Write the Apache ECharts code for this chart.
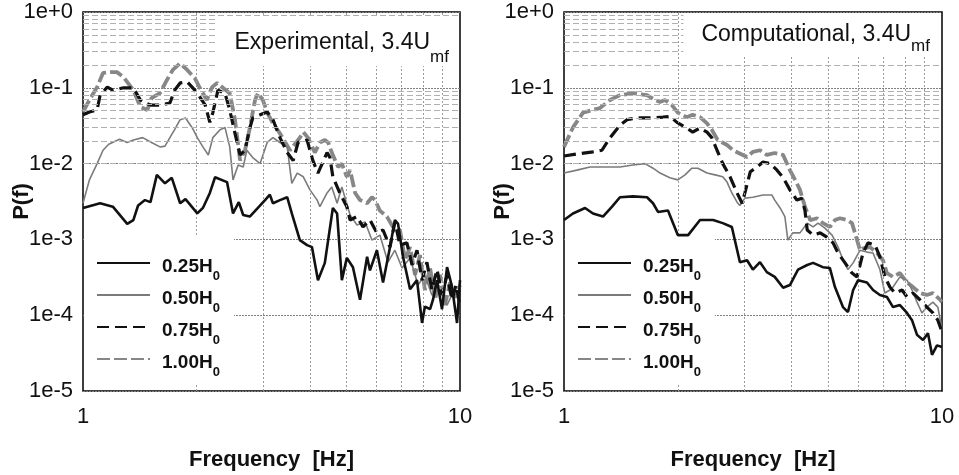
<!DOCTYPE html>
<html>
<head>
<meta charset="utf-8">
<title>P(f) spectra</title>
<script src="https://cdn.jsdelivr.net/npm/echarts@6.0.0/dist/echarts.min.js"></script>
<style>
  html, body { margin: 0; padding: 0; background: #fff; }
  #wrap { position: relative; width: 959px; height: 475px; }
  #exp  { position: absolute; left: 0; top: 0; width: 480px; height: 475px; }
  #comp { position: absolute; left: 480px; top: 0; width: 479px; height: 475px; }
</style>
</head>
<body>
<div id="wrap"><div id="exp"></div><div id="comp"></div></div>
<script>
// ---- labels and ticks ----
const seriesNames = ['0.25H0', '0.50H0', '0.75H0', '1.00H0'];
const xTickLabels = ['1', '10'];                                   // by decade: 10^0, 10^1
const yTickLabels = ['1e+0', '1e-1', '1e-2', '1e-3', '1e-4', '1e-5']; // by -exponent
const xMinorTicks = [2, 3, 4, 5, 6, 7, 8, 9];
const yMinorMantissas = [2, 3, 4, 5, 6, 7, 8, 9];
const yDecades = [-5, -4, -3, -2, -1];

// ---- experimental spectra, [frequency (Hz), P(f)] ----
const exp025 = [[1.00,2.6e-3],[1.11,3.0e-3],[1.20,2.7e-3],[1.31,1.6e-3],[1.36,1.8e-3],[1.40,2.8e-3],[1.46,3.3e-3],[1.51,3.1e-3],[1.57,7.1e-3],[1.65,5.5e-3],[1.72,6.5e-3],[1.81,3.0e-3],[1.87,3.4e-3],[2.01,2.2e-3],[2.08,2.6e-3],[2.17,4.1e-3],[2.24,6.6e-3],[2.41,5.7e-3],[2.50,2.2e-3],[2.59,3.1e-3],[2.66,2.1e-3],[2.77,2.0e-3],[3.04,3.3e-3],[3.13,3.9e-3],[3.19,3.0e-3],[3.33,3.3e-3],[3.48,3.6e-3],[3.58,2.2e-3],[3.76,9.8e-4],[3.93,8.4e-4],[4.05,7.9e-4],[4.20,2.9e-4],[4.38,4.9e-4],[4.60,2.6e-3],[4.72,2.2e-3],[4.86,2.9e-4],[5.01,5.7e-4],[5.20,4.3e-4],[5.43,1.6e-4],[5.67,5.9e-4],[5.77,3.9e-4],[6.02,7.2e-4],[6.25,2.7e-4],[6.52,7.9e-4],[6.72,1.8e-3],[6.85,1.6e-3],[7.06,5.9e-4],[7.37,2.2e-4],[7.69,2.9e-4],[7.93,7.9e-5],[8.07,1.3e-4],[8.33,1.2e-4],[8.48,1.6e-4],[8.69,2.9e-4],[8.96,1.2e-4],[9.24,4.3e-4],[9.52,2.4e-4],[9.82,7.9e-5],[10.0,2.9e-4]];
const exp050 = [[1.00,3.0e-3],[1.04,6.1e-3],[1.09,1.0e-2],[1.13,1.5e-2],[1.17,1.8e-2],[1.25,2.1e-2],[1.31,1.9e-2],[1.36,2.05e-2],[1.44,2.2e-2],[1.52,1.9e-2],[1.60,1.66e-2],[1.65,1.7e-2],[1.70,2.2e-2],[1.75,2.8e-2],[1.81,3.8e-2],[1.87,4.0e-2],[1.95,2.95e-2],[2.01,2.2e-2],[2.08,1.66e-2],[2.15,1.3e-2],[2.21,2.2e-2],[2.31,2.8e-2],[2.38,3.0e-2],[2.45,1.66e-2],[2.50,6.1e-3],[2.58,9.6e-3],[2.66,9.0e-3],[2.72,1.5e-2],[2.82,1.2e-2],[2.95,1.0e-2],[3.08,1.9e-2],[3.19,2.2e-2],[3.33,1.9e-2],[3.48,1.66e-2],[3.58,5.5e-3],[3.70,7.5e-3],[3.84,6.7e-3],[4.00,4.5e-3],[4.18,3.3e-3],[4.25,2.7e-3],[4.44,4.1e-3],[4.57,4.9e-3],[4.72,3.0e-3],[4.86,4.9e-3],[5.11,2.1e-3],[5.33,1.55e-3],[5.60,1.7e-3],[5.84,9.8e-4],[6.13,1.14e-3],[6.44,5.0e-4],[6.72,7.2e-4],[7.02,4.2e-4],[7.37,5.7e-4],[7.74,2.5e-4],[8.07,3.4e-4],[8.42,1.85e-4],[8.85,2.15e-4],[9.24,1.36e-4],[9.58,2.0e-4],[10.0,1.6e-4]];
const exp075 = [[1.00,4.4e-2],[1.04,4.8e-2],[1.09,5.1e-2],[1.11,8.0e-2],[1.16,0.102],[1.20,9.3e-2],[1.28,0.1],[1.36,0.1],[1.42,6.9e-2],[1.46,6.3e-2],[1.52,5.9e-2],[1.60,5.9e-2],[1.70,6.3e-2],[1.75,9.3e-2],[1.81,0.116],[1.89,0.12],[1.98,9.3e-2],[2.04,7.6e-2],[2.11,5.9e-2],[2.17,3.5e-2],[2.21,4.7e-2],[2.28,9.3e-2],[2.38,8.5e-2],[2.45,5.1e-2],[2.53,2.5e-2],[2.61,1.3e-2],[2.69,1.5e-2],[2.77,2.95e-2],[2.82,4.0e-2],[2.95,4.4e-2],[3.08,4.8e-2],[3.19,3.8e-2],[3.33,2.2e-2],[3.48,1.4e-2],[3.61,1.1e-2],[3.72,1.9e-2],[3.93,2.05e-2],[4.07,1.1e-2],[4.20,7.5e-3],[4.44,1.4e-2],[4.52,1.2e-2],[4.60,6.7e-3],[4.80,4.1e-3],[5.01,2.7e-3],[5.11,1.8e-3],[5.33,2.0e-3],[5.53,1.46e-3],[5.77,1.8e-3],[6.02,1.22e-3],[6.25,1.33e-3],[6.52,7.9e-4],[6.72,1.7e-3],[6.93,8.4e-4],[7.23,9.0e-4],[7.46,4.6e-4],[7.69,7.2e-4],[7.93,2.9e-4],[8.17,5.0e-4],[8.42,2.15e-4],[8.69,4.0e-4],[8.96,1.85e-4],[9.24,3.4e-4],[9.52,1.6e-4],[9.76,2.5e-4],[10.0,1.36e-4]];
const exp100 = [[1.00,4.8e-2],[1.04,6.9e-2],[1.09,0.102],[1.13,0.157],[1.18,0.161],[1.23,0.161],[1.28,0.139],[1.36,9.3e-2],[1.42,5.6e-2],[1.48,5.1e-2],[1.52,7.3e-2],[1.60,8.5e-2],[1.67,0.127],[1.73,0.172],[1.81,0.21],[1.89,0.172],[1.98,0.134],[2.04,0.1],[2.13,6.9e-2],[2.20,0.102],[2.27,0.116],[2.35,0.1],[2.45,8.5e-2],[2.53,3.8e-2],[2.61,1.1e-2],[2.69,1.5e-2],[2.77,2.95e-2],[2.86,6.9e-2],[2.91,8.5e-2],[3.00,6.9e-2],[3.08,4.7e-2],[3.19,3.4e-2],[3.33,2.5e-2],[3.54,1.5e-2],[3.76,2.2e-2],[3.84,2.6e-2],[3.95,2.2e-2],[4.12,1.4e-2],[4.25,1.9e-2],[4.38,2.05e-2],[4.47,1.9e-2],[4.57,1.4e-2],[4.75,9.0e-3],[4.86,1.0e-2],[5.01,6.7e-3],[5.11,8.2e-3],[5.27,4.1e-3],[5.43,3.3e-3],[5.67,3.0e-3],[5.84,3.6e-3],[5.95,3.3e-3],[6.13,2.4e-3],[6.40,2.0e-3],[6.64,1.46e-3],[6.93,1.33e-3],[7.15,5.4e-4],[7.37,7.9e-4],[7.60,3.4e-4],[7.83,6.2e-4],[8.07,2.15e-4],[8.33,4.2e-4],[8.59,1.6e-4],[8.85,3.4e-4],[9.12,1.36e-4],[9.41,2.7e-4],[9.70,1.7e-4],[10.0,2.5e-4]];

// ---- computational spectra, [frequency (Hz), P(f)] ----
const comp025 = [[1.00,1.8e-3],[1.056,2.2e-3],[1.137,2.6e-3],[1.193,2.2e-3],[1.268,2.0e-3],[1.34,2.7e-3],[1.406,3.6e-3],[1.522,3.7e-3],[1.658,3.6e-3],[1.72,3.0e-3],[1.773,2.3e-3],[1.884,2.4e-3],[2.0,1.14e-3],[2.13,1.14e-3],[2.29,1.8e-3],[2.48,1.8e-3],[2.63,1.64e-3],[2.78,1.46e-3],[2.92,5.0e-4],[3.05,5.3e-4],[3.16,4.0e-4],[3.30,5.0e-4],[3.44,3.7e-4],[3.61,3.2e-4],[3.80,2.3e-4],[3.96,2.5e-4],[4.16,4.0e-4],[4.40,4.6e-4],[4.56,4.9e-4],[4.84,4.3e-4],[5.05,4.2e-4],[5.21,2.35e-4],[5.47,1.28e-4],[5.64,1.1e-4],[5.82,2.15e-4],[6.0,2.9e-4],[6.33,2.7e-4],[6.57,2.15e-4],[6.85,1.85e-4],[7.15,1.74e-4],[7.42,1.28e-4],[7.74,1.36e-4],[8.08,1.07e-4],[8.33,8.6e-5],[8.59,5.5e-5],[8.91,4.7e-5],[9.18,5.8e-5],[9.41,3.0e-5],[9.70,4.0e-5],[10.0,3.8e-5]];
const comp050 = [[1.00,7.5e-3],[1.082,8.2e-3],[1.172,9.0e-3],[1.268,9.0e-3],[1.406,9.0e-3],[1.522,9.6e-3],[1.638,1.0e-2],[1.72,8.7e-3],[1.795,7.5e-3],[1.906,6.5e-3],[2.0,6.1e-3],[2.09,7.1e-3],[2.18,8.7e-3],[2.26,8.7e-3],[2.39,7.5e-3],[2.51,7.1e-3],[2.63,6.7e-3],[2.70,5.7e-3],[2.78,4.1e-3],[2.87,3.1e-3],[2.92,2.8e-3],[3.01,3.5e-3],[3.16,3.6e-3],[3.36,3.85e-3],[3.55,3.85e-3],[3.61,3.3e-3],[3.73,2.6e-3],[3.84,2.0e-3],[3.91,9.8e-4],[4.03,1.22e-3],[4.21,1.22e-3],[4.40,1.64e-3],[4.56,1.46e-3],[4.70,1.64e-3],[4.90,1.41e-3],[5.12,1.14e-3],[5.31,7.9e-4],[5.47,5.4e-4],[5.64,4.0e-4],[5.82,4.9e-4],[6.07,7.2e-4],[6.33,6.8e-4],[6.57,6.6e-4],[6.85,4.0e-4],[7.06,1.96e-4],[7.28,2.15e-4],[7.42,2.35e-4],[7.74,3.2e-4],[8.08,2.9e-4],[8.33,2.15e-4],[8.59,1.49e-4],[8.85,1.07e-4],[9.12,1.28e-4],[9.46,1.49e-4],[9.75,1.28e-4],[10.0,6.5e-5]];
const comp075 = [[1.00,1.26e-2],[1.082,1.34e-2],[1.193,1.43e-2],[1.26,1.5e-2],[1.324,2.2e-2],[1.406,3.2e-2],[1.468,3.8e-2],[1.56,4.0e-2],[1.689,4.0e-2],[1.827,4.1e-2],[1.906,4.2e-2],[1.99,3.5e-2],[2.11,2.95e-2],[2.19,2.6e-2],[2.29,2.95e-2],[2.39,2.6e-2],[2.46,2.2e-2],[2.54,1.5e-2],[2.63,1.0e-2],[2.75,6.7e-3],[2.87,4.1e-3],[2.96,3.0e-3],[3.01,4.1e-3],[3.11,7.8e-3],[3.24,9.0e-3],[3.36,1.05e-2],[3.51,1.0e-2],[3.66,8.2e-3],[3.80,6.5e-3],[3.96,4.5e-3],[4.13,3.3e-3],[4.26,3.5e-3],[4.34,2.4e-3],[4.40,1.33e-3],[4.56,1.14e-3],[4.76,1.22e-3],[4.96,1.07e-3],[5.15,9.0e-4],[5.31,6.6e-4],[5.54,4.9e-4],[5.78,3.6e-4],[5.96,3.2e-4],[6.18,6.6e-4],[6.37,9.0e-4],[6.65,8.4e-4],[6.85,5.9e-4],[7.06,3.2e-4],[7.28,2.35e-4],[7.51,1.96e-4],[7.84,2.15e-4],[8.08,1.74e-4],[8.38,1.96e-4],[8.74,1.6e-4],[9.12,1.28e-4],[9.46,1.07e-4],[9.75,8.6e-5],[10.0,6.0e-5]];
const comp100 = [[1.00,1.66e-2],[1.056,3.0e-2],[1.123,4.7e-2],[1.245,5.4e-2],[1.324,6.9e-2],[1.406,8.0e-2],[1.522,8.5e-2],[1.658,8.0e-2],[1.741,6.9e-2],[1.795,6.5e-2],[1.85,6.9e-2],[1.93,5.9e-2],[2.0,4.7e-2],[2.11,4.1e-2],[2.19,4.4e-2],[2.29,4.1e-2],[2.39,3.4e-2],[2.46,2.8e-2],[2.55,2.05e-2],[2.70,1.76e-2],[2.80,1.5e-2],[3.05,1.22e-2],[3.16,1.43e-2],[3.30,1.5e-2],[3.44,1.3e-2],[3.61,1.38e-2],[3.80,1.3e-2],[3.96,8.2e-3],[4.13,5.5e-3],[4.21,4.5e-3],[4.34,2.7e-3],[4.48,1.8e-3],[4.67,1.9e-3],[4.84,1.64e-3],[5.05,1.46e-3],[5.21,1.8e-3],[5.37,1.9e-3],[5.61,1.8e-3],[5.78,1.64e-3],[5.96,9.8e-4],[6.07,7.2e-4],[6.18,7.6e-4],[6.45,7.9e-4],[6.73,6.6e-4],[6.98,5.3e-4],[7.15,3.6e-4],[7.42,3.2e-4],[7.74,3.6e-4],[8.08,2.7e-4],[8.38,2.35e-4],[8.74,1.96e-4],[9.12,1.85e-4],[9.46,1.96e-4],[9.88,1.6e-4],[10.0,1.5e-4]];

const FONT = "'Liberation Sans', Arial, Helvetica, sans-serif";

// line styles per height
const styles = {
  '0.25H0': { color: '#111111', width: 2.6, type: 'solid', z: 5 },
  '0.50H0': { color: '#7b7b7b', width: 1.6, type: 'solid', z: 3 },
  '0.75H0': { color: '#111111', width: 3.2, type: [12, 6], z: 4 },
  '1.00H0': { color: '#878787', width: 3.8, type: [13, 4], z: 2 }
};

function minorGridLines() {
  const lines = [];
  xMinorTicks.forEach(v => lines.push({
    xAxis: v, lineStyle: { type: [2, 2], color: '#9c9c9c', width: 1 }
  }));
  yDecades.forEach(d => yMinorMantissas.forEach(m => lines.push({
    yAxis: m * Math.pow(10, d), lineStyle: { type: [6, 3], color: '#b0b0b0', width: 1 }
  })));
  return lines;
}

function buildOption(cfg) {
  const lineSeries = ['1.00H0', '0.50H0', '0.75H0', '0.25H0'].map(name => {
    const s = styles[name];
    return {
      name, type: 'line', data: cfg.data[name], symbol: 'none', z: s.z,
      lineStyle: { color: s.color, width: s.width, type: s.type },
      itemStyle: { color: s.color },
      emphasis: { disabled: true }, silent: true
    };
  });
  return {
    animation: false,
    grid: {
      left: cfg.left, right: cfg.right, top: 12, bottom: 84,
      show: true, borderColor: '#000', borderWidth: 1.5,
      outerBoundsMode: 'none'
    },
    title: {
      text: '{a|' + cfg.title + '}{s|mf}',
      right: cfg.titleRight, top: cfg.titleTop,
      padding: [cfg.titlePadTop, 10, 0, 18],
      backgroundColor: '#ffffff', z: 8,
      textStyle: {
        fontWeight: 'normal',
        rich: {
          a: { fontFamily: FONT, fontSize: 23, fontWeight: 'normal', lineHeight: 26, color: '#111',
               verticalAlign: 'top' },
          s: { fontFamily: FONT, fontSize: 17, fontWeight: 'normal', lineHeight: 10, color: '#111',
               verticalAlign: 'top', padding: [cfg.subPad, 0, 0, 0] }
        }
      }
    },
    legend: {
      data: seriesNames, orient: 'vertical', selectedMode: false,
      left: cfg.left + 1, top: 237,
      itemWidth: 53, itemHeight: 12, itemGap: 1,
      padding: [15, 14, 6, 12], backgroundColor: '#ffffff', z: 8,
      itemStyle: { color: 'rgba(0,0,0,0)', borderColor: 'rgba(0,0,0,0)', borderWidth: 0, opacity: 0 },
      formatter: n => '{m|' + n.slice(0, -1) + '}{s|' + n.slice(-1) + '}',
      textStyle: {
        padding: [0, 0, 0, 7],
        rich: {
          m: { fontFamily: FONT, fontSize: 19, fontWeight: 'bold', lineHeight: 22, color: '#111',
               verticalAlign: 'top', padding: [5, 0, 0, 0] },
          s: { fontFamily: FONT, fontSize: 13, fontWeight: 'bold', lineHeight: 14, color: '#111',
               verticalAlign: 'top', padding: [18, 0, 0, 0] }
        }
      }
    },
    xAxis: {
      type: 'log', logBase: 10, min: 1, max: 10,
      axisLine: { show: false }, axisTick: { show: false }, splitLine: { show: false },
      axisLabel: {
        fontFamily: FONT, fontSize: 22, color: '#111', margin: 15,
        showMinLabel: true, showMaxLabel: true,
        formatter: v => xTickLabels[Math.round(Math.log10(v))]
      },
      name: 'Frequency  [Hz]', nameLocation: 'middle', nameGap: 58, nameMoveOverlap: false,
      nameTextStyle: { fontFamily: FONT, fontSize: 22, fontWeight: 'bold', color: '#111' }
    },
    yAxis: {
      type: 'log', logBase: 10, min: 1e-5, max: 1, splitNumber: 5,
      axisLine: { show: false }, axisTick: { show: false },
      splitLine: { show: true, lineStyle: { type: [2, 1], color: '#808080', width: 1 } },
      axisLabel: {
        fontFamily: FONT, fontSize: 22, color: '#111', margin: 10,
        showMinLabel: true, showMaxLabel: true,
        formatter: v => yTickLabels[-Math.round(Math.log10(v))]
      },
      name: 'P(f)', nameLocation: 'middle', nameGap: 50, nameMoveOverlap: false,
      nameTextStyle: { fontFamily: FONT, fontSize: 22, fontWeight: 'bold', color: '#111' }
    },
    series: [{
      name: 'minor grid', type: 'line', data: [], z: 1, silent: true,
      markLine: {
        silent: true, symbol: ['none', 'none'], label: { show: false },
        emphasis: { disabled: true }, animation: false,
        data: minorGridLines()
      }
    }].concat(lineSeries)
  };
}

const expChart = echarts.init(document.getElementById('exp'), null, { renderer: 'canvas' });
expChart.setOption(buildOption({
  left: 83, right: 20, title: 'Experimental, 3.4U',
  titleRight: 21, titleTop: 17, titlePadTop: 14, subPad: 18,
  data: { '0.25H0': exp025, '0.50H0': exp050, '0.75H0': exp075, '1.00H0': exp100 }
}));

const compChart = echarts.init(document.getElementById('comp'), null, { renderer: 'canvas' });
compChart.setOption(buildOption({
  left: 84, right: 17, title: 'Computational, 3.4U',
  titleRight: 19, titleTop: 13, titlePadTop: 10, subPad: 15,
  data: { '0.25H0': comp025, '0.50H0': comp050, '0.75H0': comp075, '1.00H0': comp100 }
}));
</script>
</body>
</html>
